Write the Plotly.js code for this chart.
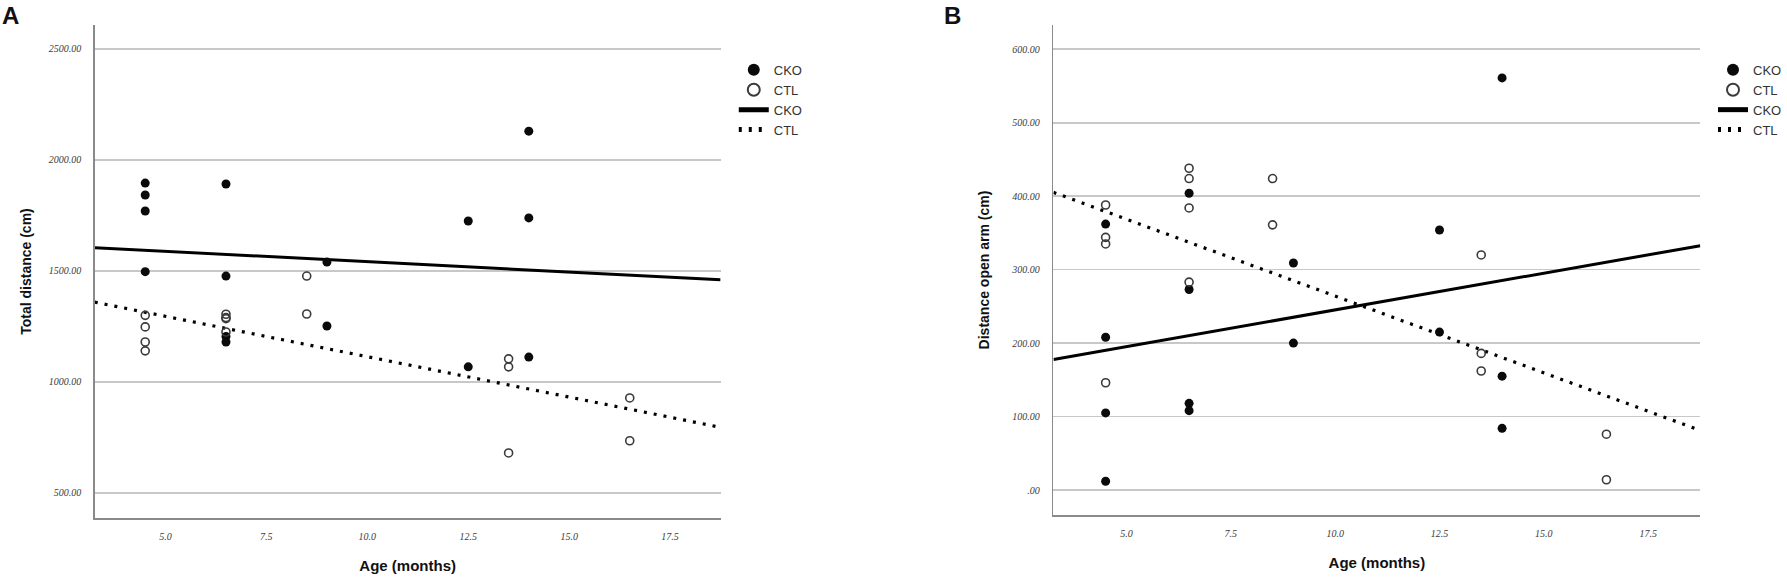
<!DOCTYPE html>
<html>
<head>
<meta charset="utf-8">
<script src="https://cdn.plot.ly/plotly-3.0.1.min.js"></script>
<style>
    body { margin: 0; background: #ffffff; }
    #chart { width: 1787px; height: 578px; }
</style>
</head>
<body>
<div id="chart"></div>
<script>
// Age groups (months) for each mouse
const ageCko = [4.5, 4.5, 4.5, 4.5, 6.5, 6.5, 6.5, 6.5, 9.0, 9.0, 12.5, 12.5, 14.0, 14.0, 14.0];
const ageCtl = [4.5, 4.5, 4.5, 4.5, 6.5, 6.5, 6.5, 6.5, 8.5, 8.5, 13.5, 13.5, 13.5, 16.5, 16.5];

// Panel A: total distance (cm)
const totalDistCko = [1896, 1842, 1770, 1497, 1892, 1477, 1205, 1180, 1540, 1252, 1725, 1068, 2130, 1739, 1112];
const totalDistCtl = [1300, 1248, 1180, 1140, 1305, 1290, 1285, 1225, 1477, 1306, 1104, 1068, 680, 928, 735];

// Panel B: distance open arm (cm)
const openArmCko = [362, 208, 105, 12, 404, 273, 118, 108, 309, 200, 354, 215, 561, 155, 84];
const openArmCtl = [388, 344, 335, 146, 438, 424, 384, 283, 424, 361, 320, 186, 162, 76, 14];

// Tick labels
const ageTicks = [5, 7.5, 10, 12.5, 15, 17.5];
const ageTickText = ['5.0', '7.5', '10.0', '12.5', '15.0', '17.5'];
const totalTicks = [500, 1000, 1500, 2000, 2500];
const totalTickText = ['500.00', '1000.00', '1500.00', '2000.00', '2500.00'];
const openArmTicks = [0, 100, 200, 300, 400, 500, 600];
const openArmTickText = ['.00', '100.00', '200.00', '300.00', '400.00', '500.00', '600.00'];

const groupNames = ['CKO', 'CTL'];

// Axis ranges
const ageRange = [3.25, 18.75];
const totalRange = [387, 2608];
const openArmRange = [-34, 633];

// Least squares fit, evaluated over the axis range
function linearFit(xs, ys) {
    const n = xs.length;
    const mx = xs.reduce((a, b) => a + b, 0) / n;
    const my = ys.reduce((a, b) => a + b, 0) / n;
    let sxy = 0, sxx = 0;
    for (let i = 0; i < n; i++) {
        sxy += (xs[i] - mx) * (ys[i] - my);
        sxx += (xs[i] - mx) * (xs[i] - mx);
    }
    const slope = sxy / sxx;
    return { slope: slope, intercept: my - slope * mx };
}

function fitLine(xs, ys, name, dash, xaxis, yaxis, legend, showlegend) {
    const fit = linearFit(xs, ys);
    return {
        x: ageRange,
        y: ageRange.map(x => fit.intercept + fit.slope * x),
        name: name,
        type: 'scatter',
        mode: 'lines',
        line: { color: '#000000', width: dash === 'solid' ? 3 : 3.2, dash: dash },
        xaxis: xaxis,
        yaxis: yaxis,
        legend: legend,
        showlegend: showlegend,
        hoverinfo: 'skip'
    };
}

function points(xs, ys, name, filled, xaxis, yaxis, legend) {
    return {
        x: xs,
        y: ys,
        name: name,
        type: 'scatter',
        mode: 'markers',
        marker: filled
            ? { symbol: 'circle', size: 9, color: '#0a0a0a' }
            : { symbol: 'circle-open', size: 8, color: '#3a3a3a', line: { width: 1.6 } },
        xaxis: xaxis,
        yaxis: yaxis,
        legend: legend,
        cliponaxis: false
    };
}

const traces = [
    fitLine(ageCko, totalDistCko, groupNames[0], 'solid', 'x', 'y', 'legend', true),
    fitLine(ageCtl, totalDistCtl, groupNames[1], '3px,7px', 'x', 'y', 'legend', true),
    points(ageCko, totalDistCko, groupNames[0], true, 'x', 'y', 'legend'),
    points(ageCtl, totalDistCtl, groupNames[1], false, 'x', 'y', 'legend'),
    fitLine(ageCko, openArmCko, groupNames[0], 'solid', 'x2', 'y2', 'legend2', true),
    fitLine(ageCtl, openArmCtl, groupNames[1], '3px,7px', 'x2', 'y2', 'legend2', true),
    points(ageCko, openArmCko, groupNames[0], true, 'x2', 'y2', 'legend2'),
    points(ageCtl, openArmCtl, groupNames[1], false, 'x2', 'y2', 'legend2')
];

const tickFont = { family: 'Liberation Serif', size: 10, color: '#3a3a3a', style: 'italic' };
const titleFont = { family: 'Liberation Sans', size: 15, color: '#111111' };

function xAxis(domain, anchor) {
    return {
        domain: domain,
        anchor: anchor,
        range: ageRange,
        tickvals: ageTicks,
        ticktext: ageTickText,
        tickfont: tickFont,
        ticks: '',
        ticklabelstandoff: 8,
        showgrid: false,
        zeroline: false,
        showline: true,
        linecolor: '#8a8a8a',
        linewidth: 1.6,
        title: { text: '<b>Age (months)</b>', font: titleFont, standoff: 20 }
    };
}

function yAxis(domain, anchor, range, vals, text, title, standoff) {
    return {
        domain: domain,
        anchor: anchor,
        range: range,
        tickvals: vals,
        ticktext: text,
        tickfont: tickFont,
        ticks: '',
        ticklabelstandoff: 10,
        showgrid: true,
        gridcolor: '#c8c8c8',
        gridwidth: 1.6,
        zeroline: false,
        showline: true,
        linecolor: '#8a8a8a',
        linewidth: 1.6,
        title: { text: '<b>' + title + '</b>', font: { ...titleFont, size: 14 }, standoff: standoff }
    };
}

const legendStyle = {
    font: { family: 'Liberation Sans', size: 13, color: '#333333' },
    bgcolor: 'rgba(0,0,0,0)',
    itemsizing: 'constant',
    itemwidth: 30,
    tracegroupgap: 0,
    traceorder: 'normal',
    xanchor: 'left',
    yanchor: 'top'
};

const layout = {
    width: 1787,
    height: 578,
    paper_bgcolor: '#ffffff',
    plot_bgcolor: '#ffffff',
    margin: { t: 0, r: 0, b: 0, l: 0 },
    showlegend: true,
    xaxis: xAxis([0.0532, 0.4046], 'y'),
    yaxis: yAxis([0.1038, 0.9567], 'x', totalRange, totalTicks, totalTickText, 'Total distance (cm)', 14),
    xaxis2: xAxis([0.5915, 0.9547], 'y2'),
    yaxis2: yAxis([0.109, 0.9567], 'x2', openArmRange, openArmTicks, openArmTickText, 'Distance open arm (cm)', 18),
    legend: { ...legendStyle, x: 0.412, y: 0.905 },
    legend2: { ...legendStyle, x: 0.962, y: 0.905 },
    annotations: [
        { text: '<b>A</b>', x: 0, y: 1, xref: 'paper', yref: 'paper', xanchor: 'left', yanchor: 'top',
          showarrow: false, font: { family: 'Liberation Sans', size: 24, color: '#111111' } },
        { text: '<b>B</b>', x: 0.529, y: 1, xref: 'paper', yref: 'paper', xanchor: 'left', yanchor: 'top',
          showarrow: false, font: { family: 'Liberation Sans', size: 24, color: '#111111' } }
    ]
};

// Legend order: filled, open, solid, dotted
const ordered = [traces[2], traces[3], traces[0], traces[1], traces[6], traces[7], traces[4], traces[5]];
ordered.forEach((t, i) => { t.legendrank = (i % 4) + 1; });

Plotly.newPlot('chart', traces, layout, { displayModeBar: false, staticPlot: true });
</script>
</body>
</html>
